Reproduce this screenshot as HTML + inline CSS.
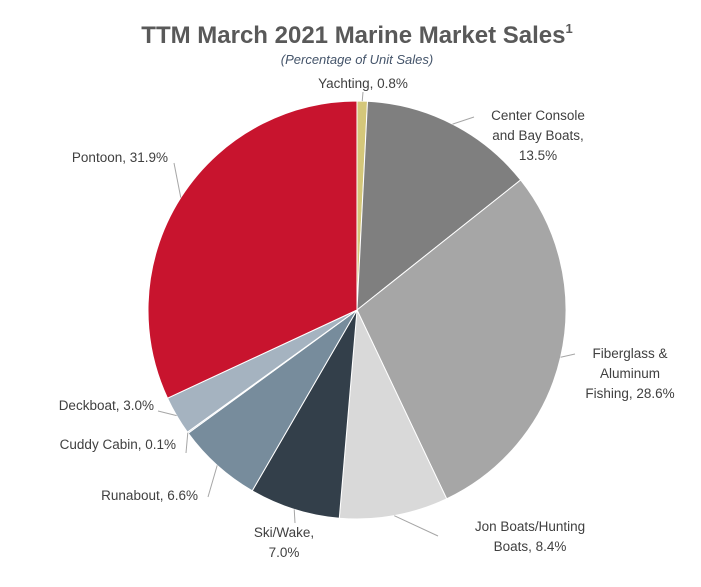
<!DOCTYPE html>
<html><head><meta charset="utf-8"><style>
html,body{margin:0;padding:0;background:#fff;}
svg text{font-family:"Liberation Sans",sans-serif;}
</style></head><body>
<svg id="chart" width="701" height="582" viewBox="0 0 701 582" xmlns="http://www.w3.org/2000/svg">
<text x="357" y="43" text-anchor="middle" font-size="24" font-weight="bold" fill="#595959">TTM March 2021 Marine Market Sales<tspan font-size="13" dy="-10">1</tspan></text>
<text x="357" y="64" text-anchor="middle" font-size="13" font-style="italic" fill="#44546a">(Percentage of Unit Sales)</text>
<g id="slices"></g>
<g id="labels"></g>
</svg>
<script>
const categories=["Yachting","Center Console and Bay Boats","Fiberglass & Aluminum Fishing","Jon Boats/Hunting Boats","Ski/Wake","Runabout","Cuddy Cabin","Deckboat","Pontoon"];
const values=[0.8,13.5,28.6,8.4,7.0,6.6,0.1,3.0,31.9];
const colors=["#d4c77a","#7f7f7f","#a6a6a6","#d9d9d9","#333f4a","#778c9c","#c9d2dc","#a5b3c0","#c8142e"];
const labelLines=[["Yachting, 0.8%"],["Center Console","and Bay Boats,","13.5%"],["Fiberglass &","Aluminum","Fishing, 28.6%"],["Jon Boats/Hunting","Boats, 8.4%"],["Ski/Wake,","7.0%"],["Runabout, 6.6%"],["Cuddy Cabin, 0.1%"],["Deckboat, 3.0%"],["Pontoon, 31.9%"]];
// layout: label anchor (x,y of first baseline), alignment, leader end point
const layout=[
 {x:363,y:88,a:"middle",lx:363,ly:92},
 {x:538,y:120,a:"middle",lx:474,ly:117},
 {x:630,y:358,a:"middle",lx:575,ly:354},
 {x:530,y:531,a:"middle",lx:438,ly:536},
 {x:284,y:537,a:"middle",lx:295,ly:523},
 {x:198,y:500,a:"end",lx:208,ly:497},
 {x:176,y:449,a:"end",lx:186,ly:453},
 {x:154,y:410,a:"end",lx:158,ly:411},
 {x:168,y:162,a:"end",lx:174,ly:163}];
const cx=357,cy=310,r=209;
const NS="http://www.w3.org/2000/svg";
const total=values.reduce((a,b)=>a+b,0);
function pt(ang,rad){return [cx+rad*Math.sin(ang),cy-rad*Math.cos(ang)];}
const sg=document.getElementById('slices'),lg=document.getElementById('labels');
let acc=0;
values.forEach((v,i)=>{
 const a0=acc/total*2*Math.PI; acc+=v; const a1=acc/total*2*Math.PI;
 const p0=pt(a0,r),p1=pt(a1,r);
 const path=document.createElementNS(NS,'path');
 path.setAttribute('d',`M${cx},${cy}L${p0[0]},${p0[1]}A${r},${r} 0 ${a1-a0>Math.PI?1:0} 1 ${p1[0]},${p1[1]}Z`);
 path.setAttribute('fill',colors[i]);path.setAttribute('stroke','#fff');path.setAttribute('stroke-width','1');
 
 
 sg.appendChild(path);
 const m=(a0+a1)/2, pm=pt(m,r), L=layout[i];
 const ln=document.createElementNS(NS,'polyline');
 ln.setAttribute('points',`${pm[0]},${pm[1]} ${L.lx},${L.ly}`);
 ln.setAttribute('fill','none');ln.setAttribute('stroke','#a6a6a6');ln.setAttribute('stroke-width','1');
 
 
 lg.appendChild(ln);
 const t=document.createElementNS(NS,'text');
 t.setAttribute('text-anchor',L.a);t.setAttribute('font-size','13.5');t.setAttribute('fill','#404040');
 
 
 labelLines[i].forEach((s,j)=>{const ts=document.createElementNS(NS,'tspan');ts.setAttribute('x',L.x);ts.setAttribute('y',L.y+j*20);ts.textContent=s;t.appendChild(ts);});
 lg.appendChild(t);
});
</script>
</body></html>
